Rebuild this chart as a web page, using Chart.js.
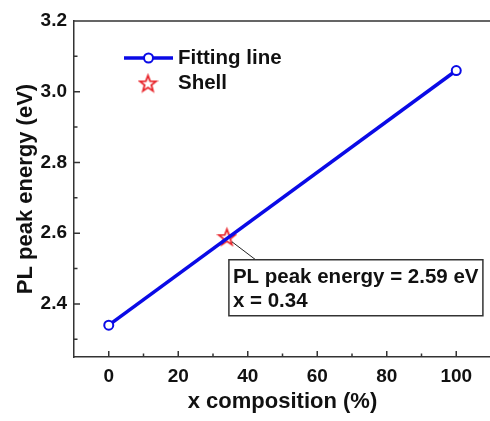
<!DOCTYPE html>
<html>
<head>
<meta charset="utf-8">
<script src="https://cdn.jsdelivr.net/npm/chart.js@4"></script>
<style>
  html, body { margin: 0; padding: 0; background: #fff; overflow: hidden; }
  #wrap { width: 500px; height: 421px; }
</style>
</head>
<body>
<div id="wrap"><canvas id="plEnergy" width="500" height="421"></canvas></div>
<script>
// data
const xComposition = [0, 100];
const plEnergy = [2.34, 3.06];
const shellX = [34];
const shellEnergy = [2.59];
const xTickValues = [0, 10, 20, 30, 40, 50, 60, 70, 80, 90, 100];
const xTickLabels = [0, 20, 40, 60, 80, 100];
const yTickValues = [2.3, 2.4, 2.5, 2.6, 2.7, 2.8, 2.9, 3.0, 3.1, 3.2];
const yTickLabels = [2.4, 2.6, 2.8, 3.0, 3.2];
const annotationLines = ['PL peak energy = 2.59 eV', 'x = 0.34'];

const BLUE = '#0a0ae6';
const RED = '#e8242a';
const AXIS = '#333';
const FONT = '"Liberation Sans", Arial, sans-serif';

const isLabel = (list, v) => list.some(t => Math.abs(t - v) < 1e-6);

// open 5 point star for the "Shell" marker
function starPath(c, cx, cy, r) {
    c.beginPath();
    for (let i = 0; i < 10; i++) {
        const rr = i % 2 ? r * 0.42 : r;
        const a = -Math.PI / 2 + i * Math.PI / 5;
        const px = cx + rr * Math.cos(a), py = cy + rr * Math.sin(a);
        i ? c.lineTo(px, py) : c.moveTo(px, py);
    }
    c.closePath();
}
function makeStar(r) {
    const cv = document.createElement('canvas');
    cv.width = cv.height = Math.ceil(r * 2 + 4);
    const c = cv.getContext('2d');
    starPath(c, cv.width / 2, cv.height / 2 + 1, r);
    c.fillStyle = '#fff';
    c.fill();
    c.lineWidth = 1.8;
    c.strokeStyle = RED;
    c.stroke();
    return cv;
}
const starImg = makeStar(8.5);

const framePlugin = {
    id: 'frame',
    beforeDatasetsDraw(chart) {
        const {ctx, chartArea: a, scales: {x, y}} = chart;
        ctx.save();
        ctx.strokeStyle = AXIS;
        ctx.lineWidth = 1.5;
        ctx.beginPath();
        ctx.moveTo(a.left, a.top);
        ctx.lineTo(a.right, a.top);
        // inward ticks
        x.ticks.forEach(t => {
            const px = x.getPixelForValue(t.value);
            const len = isLabel(xTickLabels, t.value) ? 6 : 3.5;
            ctx.moveTo(px, a.bottom);
            ctx.lineTo(px, a.bottom - len);
        });
        y.ticks.forEach(t => {
            const py = y.getPixelForValue(t.value);
            const len = isLabel(yTickLabels, t.value) ? 6 : 3.5;
            ctx.moveTo(a.left, py);
            ctx.lineTo(a.left + len, py);
        });
        ctx.stroke();
        ctx.restore();
    },
    afterDatasetsDraw(chart) {
        const {ctx, scales: {x, y}} = chart;
        ctx.save();
        // legend
        ctx.strokeStyle = BLUE;
        ctx.lineWidth = 3.5;
        ctx.beginPath();
        ctx.moveTo(124, 58);
        ctx.lineTo(173, 58);
        ctx.stroke();
        ctx.beginPath();
        ctx.arc(148.5, 58, 4.5, 0, Math.PI * 2);
        ctx.fillStyle = '#fff';
        ctx.fill();
        ctx.lineWidth = 2;
        ctx.stroke();
        ctx.drawImage(starImg, 148 - starImg.width / 2, 83 - starImg.height / 2);
        ctx.fillStyle = '#111';
        ctx.font = 'bold 20.5px ' + FONT;
        ctx.textBaseline = 'middle';
        ctx.fillText(chart.data.datasets[0].label, 178, 58);
        ctx.fillText(chart.data.datasets[1].label, 178, 83);

        // annotation for the shell point
        const sx = x.getPixelForValue(shellX[0]);
        const sy = y.getPixelForValue(shellEnergy[0]);
        ctx.strokeStyle = '#222';
        ctx.lineWidth = 1;
        ctx.beginPath();
        ctx.moveTo(sx + 5, sy + 5);
        ctx.lineTo(sx + 34, sy + 27);
        ctx.stroke();
        const bx = sx + 2, by = sy + 23, bw = 254, bh = 56;
        ctx.fillStyle = '#fff';
        ctx.fillRect(bx, by, bw, bh);
        ctx.strokeStyle = AXIS;
        ctx.lineWidth = 1.5;
        ctx.strokeRect(bx, by, bw, bh);
        ctx.fillStyle = '#111';
        ctx.font = 'bold 20.5px ' + FONT;
        ctx.textBaseline = 'alphabetic';
        ctx.fillText(annotationLines[0], bx + 4, by + 23);
        ctx.fillText(annotationLines[1], bx + 4, by + 47);
        ctx.restore();
    }
};

new Chart(document.getElementById('plEnergy'), {
    type: 'scatter',
    data: {
        datasets: [{
            label: 'Fitting line',
            data: xComposition.map((v, i) => ({x: v, y: plEnergy[i]})),
            showLine: true,
            borderColor: BLUE,
            borderWidth: 3.5,
            pointRadius: 4.5,
            pointBorderWidth: 2,
            pointBackgroundColor: '#fff',
            pointBorderColor: BLUE
        }, {
            label: 'Shell',
            data: shellX.map((v, i) => ({x: v, y: shellEnergy[i]})),
            pointStyle: starImg,
            pointRadius: 8
        }]
    },
    options: {
        responsive: false,
        animation: false,
        devicePixelRatio: 1,
        layout: {padding: {top: 21, right: 8, bottom: 0, left: 0}},
        plugins: {legend: {display: false}, tooltip: {enabled: false}},
        scales: {
            x: {
                type: 'linear',
                min: -10,
                max: 110,
                afterBuildTicks: s => { s.ticks = xTickValues.map(v => ({value: v})); },
                afterFit: s => { s.height = 64; },
                grid: {display: false, drawTicks: false},
                border: {display: true, color: AXIS, width: 1.5},
                ticks: {
                    padding: 8,
                    color: '#111',
                    font: {family: FONT, size: 19, weight: 'bold'},
                    maxRotation: 0,
                    autoSkip: false,
                    callback: v => isLabel(xTickLabels, v) ? String(v) : ''
                },
                title: {
                    display: true,
                    text: 'x composition (%)',
                    color: '#111',
                    font: {family: FONT, size: 22, weight: 'bold'},
                    padding: {top: 0, bottom: 6}
                }
            },
            y: {
                type: 'linear',
                min: 2.25,
                max: 3.2,
                afterBuildTicks: s => { s.ticks = yTickValues.map(v => ({value: v})); },
                afterFit: s => { s.width = 74; },
                grid: {display: false, drawTicks: false},
                border: {display: true, color: AXIS, width: 1.5},
                ticks: {
                    padding: 7,
                    color: '#111',
                    font: {family: FONT, size: 19, weight: 'bold'},
                    autoSkip: false,
                    callback: v => isLabel(yTickLabels, v) ? v.toFixed(1) : ''
                },
                title: {
                    display: true,
                    text: 'PL peak energy (eV)',
                    color: '#111',
                    font: {family: FONT, size: 22, weight: 'bold'},
                    padding: {top: 13, bottom: 0}
                }
            }
        }
    },
    plugins: [framePlugin]
});
</script>
</body>
</html>
